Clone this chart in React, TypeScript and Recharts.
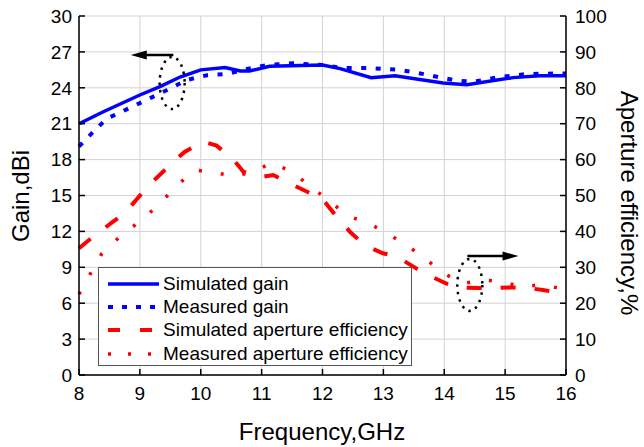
import React from 'react';
import { LineChart, Line, XAxis, YAxis, CartesianGrid, Legend, ReferenceLine, ReferenceDot, Label } from 'recharts';

const xTicks = [8, 9, 10, 11, 12, 13, 14, 15, 16];
const gainTicks = [0, 3, 6, 9, 12, 15, 18, 21, 24, 27, 30];
const effTicks = [0, 10, 20, 30, 40, 50, 60, 70, 80, 90, 100];

const simGainFreq = [8.0, 8.4, 9.0, 9.33, 9.66, 10.0, 10.4, 10.65, 10.8, 11.13, 12.0, 12.29, 12.8, 13.19, 13.98, 14.37, 15.13, 15.57, 16.0];
const simGainVal = [21.0, 22.0, 23.4, 24.1, 24.9, 25.5, 25.7, 25.4, 25.4, 25.8, 25.9, 25.6, 24.85, 25.0, 24.4, 24.25, 24.85, 25.0, 25.0];

const measGainFreq = [8.0, 8.23, 8.45, 8.95, 9.44, 9.77, 10.1, 10.43, 10.7, 11.08, 11.52, 12.0, 12.34, 12.78, 13.27, 13.71, 14.2, 14.47, 14.91, 15.35, 15.9, 16.0];
const measGainVal = [19.1, 20.3, 21.4, 22.6, 23.8, 24.65, 25.05, 25.15, 25.5, 25.9, 26.05, 25.9, 25.65, 25.65, 25.5, 25.1, 24.6, 24.5, 24.9, 25.15, 25.2, 25.2];

const simEffFreq = [8.0, 8.23, 8.56, 8.76, 9.03, 9.22, 9.55, 9.74, 10.04, 10.26, 10.53, 10.7, 11.0, 11.19, 11.52, 11.74, 12.0, 12.19, 12.45, 12.69, 12.99, 13.21, 13.54, 13.73, 14.03, 14.25, 14.58, 14.8, 15.13, 15.29, 15.62, 15.87, 16.0];
const simEffVal = [35.3, 38.5, 42.7, 45.2, 50.6, 54.0, 59.4, 62.2, 65.0, 63.9, 60.1, 56.6, 55.2, 55.7, 52.9, 51.1, 49.0, 45.0, 39.9, 36.2, 33.9, 33.1, 29.7, 27.9, 25.5, 24.4, 24.2, 24.2, 24.4, 24.4, 23.7, 22.9, 22.7];

const measEffFreq = [8.0, 8.19, 8.37, 8.67, 8.99, 9.3, 9.59, 9.9, 10.23, 10.53, 10.85, 11.17, 11.49, 11.8, 12.42, 12.75, 13.05, 13.38, 13.68, 13.99, 14.31, 14.63, 14.94, 15.27, 15.57, 15.9, 16.0];
const measEffVal = [22.5, 28.3, 33.7, 38.5, 42.7, 47.2, 52.5, 57.1, 56.4, 55.4, 56.4, 59.2, 56.6, 52.6, 44.3, 42.3, 39.6, 36.2, 32.5, 28.3, 25.5, 26.5, 26.0, 24.6, 25.1, 24.2, 24.0];

const zip = (f: number[], v: number[]) => f.map((x, i) => ({ f: x, v: v[i] }));

const simGain = zip(simGainFreq, simGainVal);
const measGain = zip(measGainFreq, measGainVal);
const simEff = zip(simEffFreq, simEffVal);
const measEff = zip(measEffFreq, measEffVal);

const FONT = '"Liberation Sans", Arial, sans-serif';
const BLUE = '#0000ff';
const RED = '#ff0000';

const legendItems = [
  { name: 'Simulated gain', color: BLUE, dash: undefined, width: 3.5 },
  { name: 'Measured gain', color: BLUE, dash: '5 9', width: 4 },
  { name: 'Simulated aperture efficiency', color: RED, dash: '12 20', width: 4 },
  { name: 'Measured aperture efficiency', color: RED, dash: '3 17', width: 3.5 },
];

const LegendBox = () => (
  <div style={{ width: 312, height: 97, border: '1px solid #555', background: '#fff', fontFamily: FONT, fontSize: 19, color: '#000', boxSizing: 'content-box' }}>
    {legendItems.map((it, i) => (
      <div key={i} style={{ display: 'flex', alignItems: 'center', height: 23.3, marginTop: i === 0 ? 4 : 0 }}>
        <svg width={58} height={12} style={{ marginLeft: 8 }}>
          <line x1={1} y1={6} x2={52} y2={6} stroke={it.color} strokeWidth={it.width} strokeDasharray={it.dash} />
        </svg>
        <span style={{ marginLeft: -2 }}>{it.name}</span>
      </div>
    ))}
  </div>
);

const arrowShape = (dir: number) => (p: any) => {
  const { x1, y1, x2, y2 } = p;
  const tipX = dir < 0 ? Math.min(x1, x2) : Math.max(x1, x2);
  const tailX = dir < 0 ? Math.max(x1, x2) : Math.min(x1, x2);
  const y = y1;
  return (
    <g>
      <line x1={tailX} y1={y} x2={tipX - dir * 10} y2={y} stroke="#000" strokeWidth={2.5} />
      <polygon points={`${tipX},${y} ${tipX - dir * 16},${y - 4.5} ${tipX - dir * 16},${y + 4.5}`} fill="#000" />
    </g>
  );
};

const ellipseShape = (p: any) => (
  <ellipse cx={p.cx} cy={p.cy} rx={12.5} ry={26} fill="none" stroke="#000" strokeWidth={2.5} strokeDasharray="2.5 5" />
);

export default function App() {
  return (
    <div style={{ position: 'absolute', left: 0, top: 0, background: '#fff' }}>
      <LineChart width={644} height={447} margin={{ top: 16, right: 0, bottom: 0, left: 0 }}>
        <CartesianGrid stroke="#d3d3d3" strokeWidth={1} yAxisId="gain" verticalPoints={undefined} />
        <XAxis
          dataKey="f"
          type="number"
          domain={[8, 16]}
          ticks={xTicks}
          allowDuplicatedCategory={false}
          height={72}
          stroke="#000"
          axisLine={{ stroke: '#000', strokeWidth: 1.5 }}
          tickLine={{ stroke: '#000', strokeWidth: 1.5 }}
          tickSize={-6}
          tickMargin={18}
          tick={{ fill: '#000', fontSize: 19, fontFamily: FONT }}
        >
          <Label
            content={() => (
              <text x={322} y={440} textAnchor="middle" fontSize={24} fontFamily={FONT} fill="#000">Frequency,GHz</text>
            )}
          />
        </XAxis>
        <XAxis xAxisId="top" orientation="top" type="number" domain={[8, 16]} height={0} tick={false} tickLine={false} axisLine={{ stroke: '#000', strokeWidth: 1.5 }} />
        <YAxis
          yAxisId="gain"
          domain={[0, 30]}
          ticks={gainTicks}
          width={79}
          axisLine={{ stroke: '#000', strokeWidth: 1.5 }}
          tickLine={{ stroke: '#000', strokeWidth: 1.5 }}
          tickSize={-6}
          tickMargin={13}
          tick={{ fill: '#000', fontSize: 19, fontFamily: FONT }}
        >
          <Label
            content={() => (
              <text x={20} y={196} transform="rotate(-90 20 196)" textAnchor="middle" dominantBaseline="central" fontSize={24} fontFamily={FONT} fill="#000">Gain,dBi</text>
            )}
          />
        </YAxis>
        <YAxis
          yAxisId="eff"
          orientation="right"
          domain={[0, 100]}
          ticks={effTicks}
          width={78}
          axisLine={{ stroke: '#000', strokeWidth: 1.5 }}
          tickLine={{ stroke: '#000', strokeWidth: 1.5 }}
          tickSize={-6}
          tickMargin={15}
          tick={{ fill: '#000', fontSize: 19, fontFamily: FONT, textAnchor: 'start' }}
        >
          <Label
            content={() => (
              <text x={629} y={203} transform="rotate(90 629 203)" textAnchor="middle" dominantBaseline="central" fontSize={24} fontFamily={FONT} fill="#000">Aperture efficiency,%</text>
            )}
          />
        </YAxis>
        <Line yAxisId="eff" data={measEff} dataKey="v" name="Measured aperture efficiency" stroke={RED} strokeWidth={3.5} strokeDasharray="3 19" dot={false} isAnimationActive={false} type="linear" />
        <Line yAxisId="eff" data={simEff} dataKey="v" name="Simulated aperture efficiency" stroke={RED} strokeWidth={4} strokeDasharray="15 19" dot={false} isAnimationActive={false} type="linear" />
        <Line yAxisId="gain" data={measGain} dataKey="v" name="Measured gain" stroke={BLUE} strokeWidth={4} strokeDasharray="5 9.5" dot={false} isAnimationActive={false} type="linear" />
        <Line yAxisId="gain" data={simGain} dataKey="v" name="Simulated gain" stroke={BLUE} strokeWidth={3.5} dot={false} isAnimationActive={false} type="linear" />
        <ReferenceLine yAxisId="gain" segment={[{ x: 8.85, y: 26.74 }, { x: 9.55, y: 26.74 }]} shape={arrowShape(-1)} ifOverflow="visible" />
        <ReferenceDot yAxisId="gain" x={9.53} y={24.4} shape={ellipseShape} ifOverflow="visible" />
        <ReferenceLine yAxisId="gain" segment={[{ x: 14.38, y: 9.94 }, { x: 15.22, y: 9.94 }]} shape={arrowShape(1)} ifOverflow="visible" />
        <ReferenceDot yAxisId="eff" x={14.42} y={25.1} shape={ellipseShape} ifOverflow="visible" />
        <Legend
          layout="horizontal"
          verticalAlign="middle"
          align="center"
          content={() => <LegendBox />}
          wrapperStyle={{ left: 98, top: 267, width: 314, height: 99 }}
        />
      </LineChart>
    </div>
  );
}
